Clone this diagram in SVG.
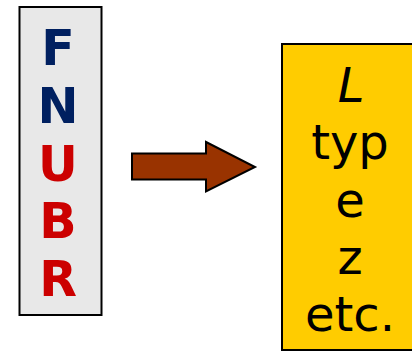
<svg xmlns="http://www.w3.org/2000/svg" width="412" height="351" viewBox="0 0 412 351">
<style>
.box{stroke:#000;stroke-width:2}
.big{font-family:"DejaVu Sans",sans-serif;font-weight:bold;font-size:49px;text-anchor:middle}
.navy{fill:#002060}
.red{fill:#CC0000}
.lbl{font-family:"DejaVu Sans",sans-serif;font-size:48px;text-anchor:middle;fill:#000}
</style>
<rect width="412" height="351" fill="#fff"/>
<g id="left">
<rect class="box" x="19.5" y="7" width="82" height="308" fill="#E8E8E8"/>
<text class="big navy" x="58" y="65">F</text>
<text class="big navy" x="58" y="123">N</text>
<text class="big red" x="58" y="181">U</text>
<text class="big red" x="58" y="238">B</text>
<text class="big red" x="58" y="296">R</text>
</g>
<g id="connectors">
<polygon class="box" points="132,153.5 206,153.5 206,142 255,167 206,191.5 206,179.5 132,179.5" fill="#993300"/>
</g>
<g id="right">
<rect class="box" x="282" y="44" width="140" height="306" fill="#FFCC00"/>
<text class="lbl" x="351" y="102" font-style="italic">L</text>
<text class="lbl" x="350" y="159">typ</text>
<text class="lbl" x="350" y="217">e</text>
<text class="lbl" x="350" y="274">z</text>
<text class="lbl" x="350" y="331">etc.</text>
</g>
</svg>
